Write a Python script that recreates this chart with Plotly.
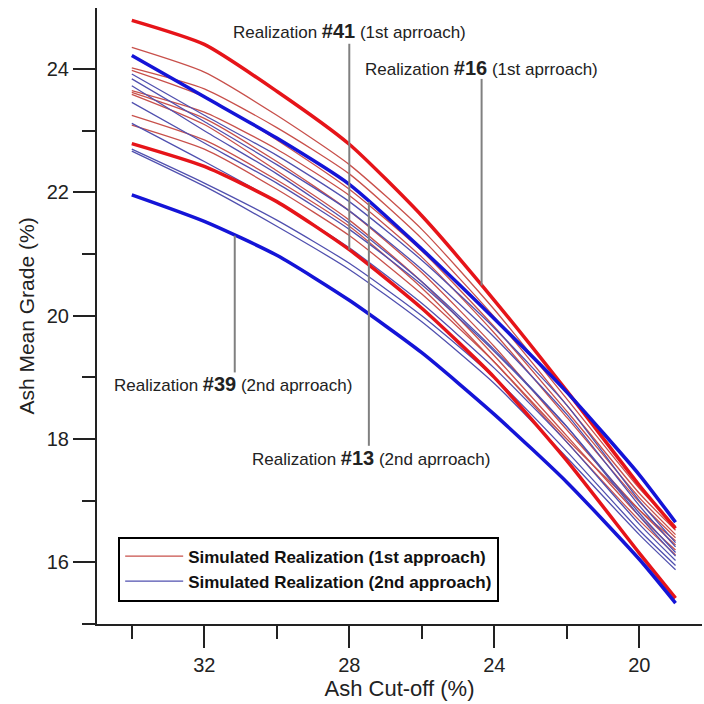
import numpy as np
import plotly.graph_objects as go

# Ash cut-off (%) nodes
cutoff = [34, 32, 30, 28, 26, 24, 22, 20, 19]

# 1st approach (red): highlighted realizations
r16 = [24.79, 24.40, 23.64, 22.78, 21.62, 20.25, 18.78, 17.25, 16.55]
r41 = [22.79, 22.42, 21.85, 21.07, 20.12, 19.00, 17.65, 16.15, 15.42]
# 1st approach thin realizations
red_thin = [
    [24.35, 23.95, 23.25, 22.45, 21.40, 20.10, 18.65, 17.20, 16.58],
    [24.02, 23.68, 23.05, 22.30, 21.25, 19.98, 18.55, 17.12, 16.52],
    [23.98, 23.55, 22.85, 22.05, 21.05, 19.82, 18.45, 17.05, 16.45],
    [23.65, 23.30, 22.70, 21.95, 20.95, 19.72, 18.35, 16.98, 16.40],
    [23.62, 23.20, 22.50, 21.70, 20.70, 19.50, 18.15, 16.85, 16.28],
    [23.59, 23.10, 22.35, 21.55, 20.55, 19.35, 18.05, 16.75, 16.20],
    [23.25, 22.85, 22.20, 21.45, 20.45, 19.25, 17.95, 16.68, 16.12],
    [23.09, 22.70, 22.05, 21.30, 20.35, 19.25, 18.00, 16.85, 16.35],
]

# 2nd approach (blue): highlighted realizations
b13 = [24.22, 23.55, 22.88, 22.13, 21.08, 19.95, 18.76, 17.42, 16.65]
b39 = [21.96, 21.53, 20.98, 20.25, 19.40, 18.40, 17.30, 16.05, 15.34]
blue_thin = [
    [23.92, 23.25, 22.60, 21.85, 20.90, 19.80, 18.55, 17.00, 16.32],
    [23.84, 23.15, 22.45, 21.70, 20.75, 19.65, 18.40, 16.92, 16.25],
    [23.73, 23.00, 22.30, 21.50, 20.55, 19.45, 18.20, 16.75, 16.10],
    [23.46, 22.80, 22.15, 21.40, 20.50, 19.42, 18.20, 16.80, 16.16],
    [23.12, 22.50, 21.85, 21.10, 20.20, 19.15, 17.95, 16.62, 16.03],
    [22.70, 22.15, 21.55, 20.85, 20.00, 19.00, 17.80, 16.52, 15.95],
    [22.67, 22.10, 21.45, 20.75, 19.90, 18.90, 17.70, 16.45, 15.88],
]

RED_THIN = "rgb(200,80,75)"
BLUE_THIN = "rgb(80,80,175)"
RED = "rgb(230,20,25)"
BLUE = "rgb(20,20,215)"
FONT = "Liberation Sans, Arial, sans-serif"
SMOOTH = 0.6

fig = go.Figure()
for i, ys in enumerate(red_thin):
    fig.add_trace(go.Scatter(x=cutoff, y=ys, mode="lines",
                             line=dict(color=RED_THIN, width=1.3, shape="spline", smoothing=SMOOTH),
                             name="<b>Simulated Realization (1st approach)</b>",
                             legendgroup="r", showlegend=(i == 0)))
for i, ys in enumerate(blue_thin):
    fig.add_trace(go.Scatter(x=cutoff, y=ys, mode="lines",
                             line=dict(color=BLUE_THIN, width=1.3, shape="spline", smoothing=SMOOTH),
                             name="<b>Simulated Realization (2nd approach)</b>",
                             legendgroup="b", showlegend=(i == 0)))
for ys, c in [(r16, RED), (r41, RED), (b13, BLUE), (b39, BLUE)]:
    fig.add_trace(go.Scatter(x=cutoff, y=ys, mode="lines",
                             line=dict(color=c, width=3.5, shape="spline", smoothing=SMOOTH),
                             showlegend=False))


def interp(series, xv):
    return float(np.interp(-xv, [-c for c in cutoff], series))


# callouts: label, series, x of leader line, free end of leader, label x, label y
callouts = [
    ("Realization <span style='font-size:20px'><b>#41</b></span> (1st aprroach)", r41, 28.0, 24.41, 28.0, 24.62),
    ("Realization <span style='font-size:20px'><b>#16</b></span> (1st aprroach)", r16, 24.35, 23.84, 24.35, 24.02),
    ("Realization <span style='font-size:20px'><b>#39</b></span> (2nd aprroach)", b39, 31.16, 19.08, 31.2, 18.89),
    ("Realization <span style='font-size:20px'><b>#13</b></span> (2nd aprroach)", b13, 27.46, 17.89, 27.4, 17.70),
]
for label, series, xv, yend, tx, ty in callouts:
    yon = interp(series, xv)
    fig.add_shape(type="line", x0=xv, x1=xv, y0=yend, y1=yon,
                  line=dict(color="rgb(128,128,128)", width=2))
    fig.add_annotation(x=tx, y=ty, text=label, showarrow=False,
                       font=dict(family=FONT, size=17, color="#222"),
                       xanchor="center", yanchor="middle")

fig.update_layout(
    width=704, height=704,
    margin=dict(l=97, r=2, t=8, b=80),
    plot_bgcolor="white", paper_bgcolor="white",
    font=dict(family=FONT, size=20, color="#222"),
    showlegend=True,
    legend=dict(x=0.035, y=0.142, xanchor="left", yanchor="top",
                bordercolor="black", borderwidth=2, bgcolor="white",
                font=dict(family=FONT, size=17, color="#111"),
                tracegroupgap=0, itemwidth=58),
)
fig.update_xaxes(range=[34.96, 18.27], showgrid=False, zeroline=False,
                 showline=True, linecolor="#222", linewidth=2,
                 tickmode="linear", tick0=0, dtick=4,
                 ticks="outside", ticklen=22, tickwidth=2, tickcolor="#222",
                 minor=dict(ticks="outside", ticklen=13, tickwidth=2, tickcolor="#222",
                            tickmode="linear", tick0=0, dtick=2),
                 tickfont=dict(size=20),
                 title=dict(text="Ash Cut-off (%)", font=dict(size=22), standoff=2))
fig.update_yaxes(range=[15.0, 24.99], showgrid=False, zeroline=False,
                 showline=True, linecolor="#222", linewidth=2,
                 tickmode="linear", tick0=0, dtick=2,
                 ticks="outside", ticklen=22, tickwidth=2, tickcolor="#222",
                 minor=dict(ticks="outside", ticklen=13, tickwidth=2, tickcolor="#222",
                            tickmode="linear", tick0=0, dtick=1),
                 tickfont=dict(size=20),
                 title=dict(text="Ash Mean Grade (%)", font=dict(size=21), standoff=6))

fig.write_html("out.html")
